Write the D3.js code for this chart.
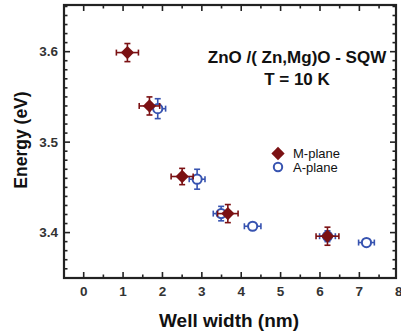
<!DOCTYPE html>
<html>
<head>
<meta charset="utf-8">
<script src="https://cdn.jsdelivr.net/npm/d3@7"></script>
<style>
  html, body { margin: 0; padding: 0; background: #fff; }
  svg { display: block; font-family: "Liberation Sans", Arial, sans-serif; }
</style>
</head>
<body>
<svg id="chart" width="401" height="334"></svg>
<script>
// Well width (nm), energy (eV) and their error bars for each plane orientation
const mWidth  = [1.11, 1.67, 2.50, 3.66, 6.19];
const mEnergy = [3.599, 3.540, 3.462, 3.421, 3.396];
const mWidthErr  = [0.28, 0.26, 0.28, 0.26, 0.29];
const mEnergyErr = [0.010, 0.010, 0.009, 0.010, 0.010];

const aWidth  = [1.88, 2.88, 3.49, 4.29, 6.19, 7.18];
const aEnergy = [3.537, 3.459, 3.421, 3.407, 3.396, 3.389];
const aWidthErr  = [0.20, 0.20, 0.20, 0.21, 0.20, 0.20];
const aEnergyErr = [0.011, 0.011, 0.008, 0.004, 0.006, 0.004];

const xTicks = [0, 1, 2, 3, 4, 5, 6, 7, 8];
const yTicks = [3.4, 3.5, 3.6];
const seriesNames = ["M-plane", "A-plane"];
const titleLines = ["ZnO /( Zn,Mg)O - SQW", "T = 10 K"];

const svg = d3.select("#chart");
const plotL = 64, plotR = 396, plotT = 5, plotB = 278;

const x = d3.scaleLinear().domain([-0.5, 7.93]).range([plotL, plotR]);
const y = d3.scaleLinear().domain([3.3498, 3.6516]).range([plotB, plotT]);

const axisColor = "#222";
const red = "#7b1113";
const blue = "#3753b0";

// Frame
svg.append("rect")
  .attr("x", plotL).attr("y", plotT)
  .attr("width", plotR - plotL).attr("height", plotB - plotT)
  .attr("fill", "none").attr("stroke", axisColor).attr("stroke-width", 2.2);

// Inward ticks on all four sides
const xMinor = d3.range(0, 8.01, 0.5);
const yMinor = d3.range(3.35, 3.651, 0.01).map(v => +v.toFixed(2));
const tickG = svg.append("g").attr("stroke", axisColor).attr("stroke-width", 1.6);
xMinor.forEach(v => {
  const px = x(v);
  if (px < plotL + 1 || px > plotR - 1) return;
  const len = Number.isInteger(v) ? 6 : 3.5;
  tickG.append("line").attr("x1", px).attr("x2", px).attr("y1", plotB).attr("y2", plotB - len);
  tickG.append("line").attr("x1", px).attr("x2", px).attr("y1", plotT).attr("y2", plotT + len);
});
yMinor.forEach(v => {
  const py = y(v);
  if (py < plotT + 1 || py > plotB - 1) return;
  const major = Math.abs(v * 10 - Math.round(v * 10)) < 1e-6;
  const len = major ? 6 : 3.5;
  tickG.append("line").attr("y1", py).attr("y2", py).attr("x1", plotL).attr("x2", plotL + len);
  tickG.append("line").attr("y1", py).attr("y2", py).attr("x1", plotR).attr("x2", plotR - len);
});

// Tick labels
svg.append("g").selectAll("text").data(xTicks).join("text")
  .attr("x", d => x(d)).attr("y", 296)
  .attr("text-anchor", "middle")
  .attr("font-size", 13.5).attr("font-weight", "bold").attr("fill", "#333")
  .text(d => d);
svg.append("g").selectAll("text").data(yTicks).join("text")
  .attr("x", 58).attr("y", d => y(d) + 4.5)
  .attr("text-anchor", "end")
  .attr("font-size", 13.5).attr("font-weight", "bold").attr("fill", "#333")
  .text(d => d.toFixed(1));

// Axis titles
svg.append("text")
  .attr("x", 229).attr("y", 327)
  .attr("text-anchor", "middle")
  .attr("font-size", 19).attr("font-weight", "bold").attr("fill", "#111")
  .text("Well width (nm)");
svg.append("text")
  .attr("transform", "translate(27,140) rotate(-90)")
  .attr("text-anchor", "middle")
  .attr("font-size", 17.5).attr("font-weight", "bold").attr("fill", "#111")
  .text("Energy (eV)");

// Title block
svg.append("text").attr("x", 297).attr("y", 63)
  .attr("text-anchor", "middle").attr("font-size", 17).attr("font-weight", "bold").attr("fill", "#111")
  .text(titleLines[0]);
svg.append("text").attr("x", 297).attr("y", 85)
  .attr("text-anchor", "middle").attr("font-size", 17).attr("font-weight", "bold").attr("fill", "#111")
  .text(titleLines[1]);

// Error bars with end caps
function errorBars(g, xs, ys, xe, ye) {
  const cap = 3;
  xs.forEach((xv, i) => {
    const cx = x(xv), cy = y(ys[i]);
    const x0 = x(xv - xe[i]), x1 = x(xv + xe[i]);
    const y0 = y(ys[i] - ye[i]), y1 = y(ys[i] + ye[i]);
    g.append("line").attr("x1", x0).attr("x2", x1).attr("y1", cy).attr("y2", cy);
    g.append("line").attr("x1", x0).attr("x2", x0).attr("y1", cy - cap).attr("y2", cy + cap);
    g.append("line").attr("x1", x1).attr("x2", x1).attr("y1", cy - cap).attr("y2", cy + cap);
    g.append("line").attr("x1", cx).attr("x2", cx).attr("y1", y0).attr("y2", y1);
    g.append("line").attr("x1", cx - cap).attr("x2", cx + cap).attr("y1", y0).attr("y2", y0);
    g.append("line").attr("x1", cx - cap).attr("x2", cx + cap).attr("y1", y1).attr("y2", y1);
  });
}

const diamond = d3.symbol().type(d3.symbolSquare).size(88);

// A-plane (drawn first, underneath)
const aG = svg.append("g");
errorBars(aG.append("g").attr("stroke", blue).attr("stroke-width", 1.6), aWidth, aEnergy, aWidthErr, aEnergyErr);
aG.selectAll("circle").data(aWidth).join("circle")
  .attr("cx", d => x(d)).attr("cy", (d, i) => y(aEnergy[i]))
  .attr("r", 4.6).attr("fill", "#fff").attr("stroke", blue).attr("stroke-width", 2);

// M-plane
const mG = svg.append("g");
errorBars(mG.append("g").attr("stroke", red).attr("stroke-width", 1.6), mWidth, mEnergy, mWidthErr, mEnergyErr);
mG.selectAll("path").data(mWidth).join("path")
  .attr("d", diamond)
  .attr("transform", (d, i) => `translate(${x(d)},${y(mEnergy[i])}) rotate(45)`)
  .attr("fill", red);

// Legend
const lg = svg.append("g");
lg.append("path").attr("d", diamond).attr("transform", "translate(278,153.5) rotate(45)").attr("fill", red);
lg.append("circle").attr("cx", 278).attr("cy", 167).attr("r", 4.2)
  .attr("fill", "#fff").attr("stroke", blue).attr("stroke-width", 2);
lg.selectAll("text").data(seriesNames).join("text")
  .attr("x", 293).attr("y", (d, i) => 158 + i * 13.5)
  .attr("font-size", 13).attr("fill", "#111")
  .text(d => d);
</script>
</body>
</html>
